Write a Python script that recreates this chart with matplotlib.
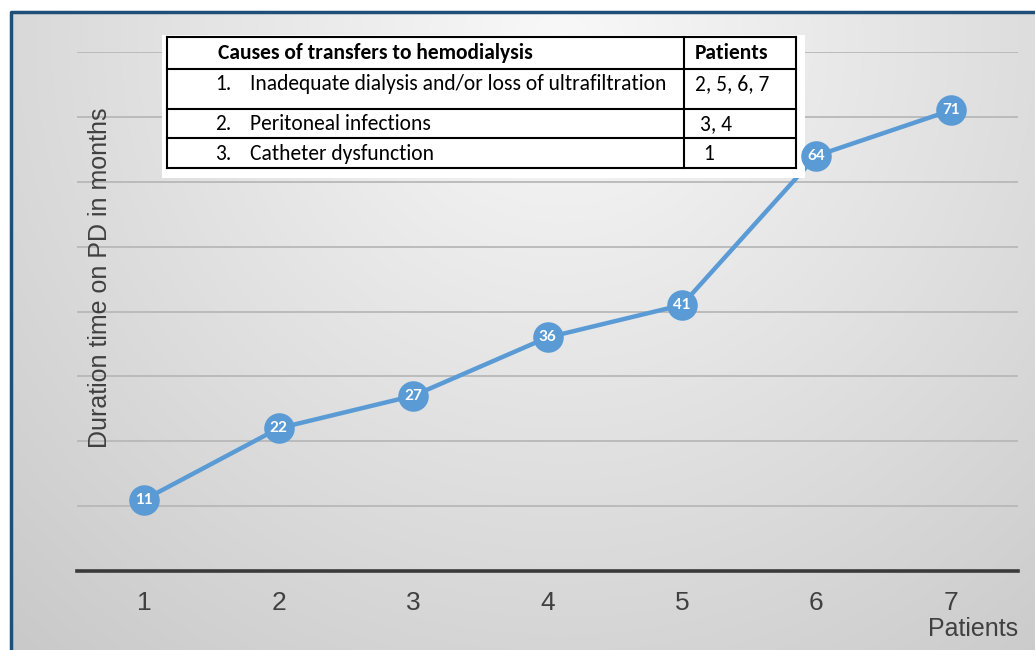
import numpy as np
import matplotlib
matplotlib.use("Agg")
import matplotlib.pyplot as plt
from matplotlib.transforms import Affine2D
from matplotlib.patches import Rectangle

W, H = 1035, 650

# data
patients = [1, 2, 3, 4, 5, 6, 7]
months = [11, 22, 27, 36, 41, 64, 71]

table_header = ["Causes of transfers to hemodialysis", "Patients"]
table_causes = ["Inadequate dialysis and/or loss of ultrafiltration",
                "Peritoneal infections",
                "Catheter dysfunction"]
table_patients = ["2, 5, 6, 7", "3, 4", "1"]

plt.rcParams["font.family"] = ["Liberation Sans", "DejaVu Sans"]

fig = plt.figure(figsize=(W / 100, H / 100), dpi=100)

# background: white page, grey gradient panel, dark blue frame on left/top
bg = fig.add_axes([0, 0, 1, 1])
bg.set_xlim(0, W)
bg.set_ylim(H, 0)
bg.axis("off")
yy, xx = np.mgrid[0:H, 0:W]
d = np.sqrt(((xx - 560) / 700.0) ** 2 + ((yy - 40) / 700.0) ** 2)
shade = np.clip(0.975 - 0.16 * d, 0.77, 0.975)
img = np.dstack([shade, shade, shade])
img[:12, :] = 1.0
img[:, :10] = 1.0
bg.imshow(img, extent=(0, W, H, 0), aspect="auto", interpolation="bilinear")
bg.plot([11, 11, W], [H, 12, 12], color="#1f4e79", lw=2.5, solid_capstyle="butt")

# main chart
ax = fig.add_axes([77 / W, (H - 571) / H, (1018 - 77) / W, (571 - 52) / H])
ax.patch.set_alpha(0)
ax.set_xlim(0.5, 7.5)
ax.set_ylim(0, 80)
ax.set_yticks(np.arange(10, 81, 10))
ax.yaxis.grid(True, color="#b8b8b8", lw=1.3)
ax.tick_params(axis="y", left=False, labelleft=False)
ax.set_xticks(patients)
ax.tick_params(axis="x", bottom=False, labelsize=19, labelcolor="#404040", pad=11)
for s in ["top", "right", "left"]:
    ax.spines[s].set_visible(False)
ax.spines["bottom"].set_color("#3a3a3a")
ax.spines["bottom"].set_linewidth(2.6)
ax.set_axisbelow(True)

ax.plot(patients, months, color="#5b9bd5", lw=3.2, zorder=3, solid_capstyle="round")
ax.plot(patients, months, "o", color="#5b9bd5", ms=22, mew=0, zorder=6)
for x, v in zip(patients, months):
    ax.text(x, v, str(v), color="white", fontsize=11, fontweight="bold",
            ha="center", va="center", zorder=7, family=["Lato", "DejaVu Sans"])

# table drawn in pixel coordinates, above the line but below the markers
px = Affine2D().scale(1 / W, -1 / H).translate(0, 1) + fig.transFigure
tfont = ["Carlito", "Lato", "DejaVu Sans"]
tsize = 15.5
ax.add_patch(Rectangle((162, 35), 643, 143, transform=px, facecolor="white",
                       edgecolor="none", zorder=4, clip_on=False))
left, right, mid = 167, 796, 684
rows = [37, 69, 109, 138, 168]
for y in rows:
    ax.plot([left, right], [y, y], transform=px, color="black", lw=1.5, zorder=5, clip_on=False)
for x in [left, mid, right]:
    ax.plot([x, x], [rows[0], rows[-1]], transform=px, color="black", lw=1.5, zorder=5, clip_on=False)

ax.text(218, 53, table_header[0], transform=px, fontsize=tsize, fontweight="bold",
        ha="left", va="center", family=tfont, zorder=5)
ax.text(695, 53, table_header[1], transform=px, fontsize=tsize, fontweight="bold",
        ha="left", va="center", family=tfont, zorder=5)
row_y = [84, 124, 154]
row_x2 = [695, 700, 703]
for i, (cause, pts) in enumerate(zip(table_causes, table_patients)):
    ax.text(215, row_y[i], f"{i + 1}.", transform=px, fontsize=tsize, ha="left",
            va="center", family=tfont, zorder=5)
    ax.text(250, row_y[i], cause, transform=px, fontsize=tsize, ha="left",
            va="center", family=tfont, zorder=5)
    ax.text(row_x2[i], row_y[i], pts, transform=px, fontsize=tsize, ha="left",
            va="center", family=tfont, zorder=5)

fig.text(100 / W, 1 - 278 / H, "Duration time on PD in months", rotation=90,
         fontsize=18, color="#404040", ha="center", va="center")
fig.text(1018 / W, 1 - 629 / H, "Patients", fontsize=18, color="#404040",
         ha="right", va="center")

fig.savefig("out.png", dpi=100)
